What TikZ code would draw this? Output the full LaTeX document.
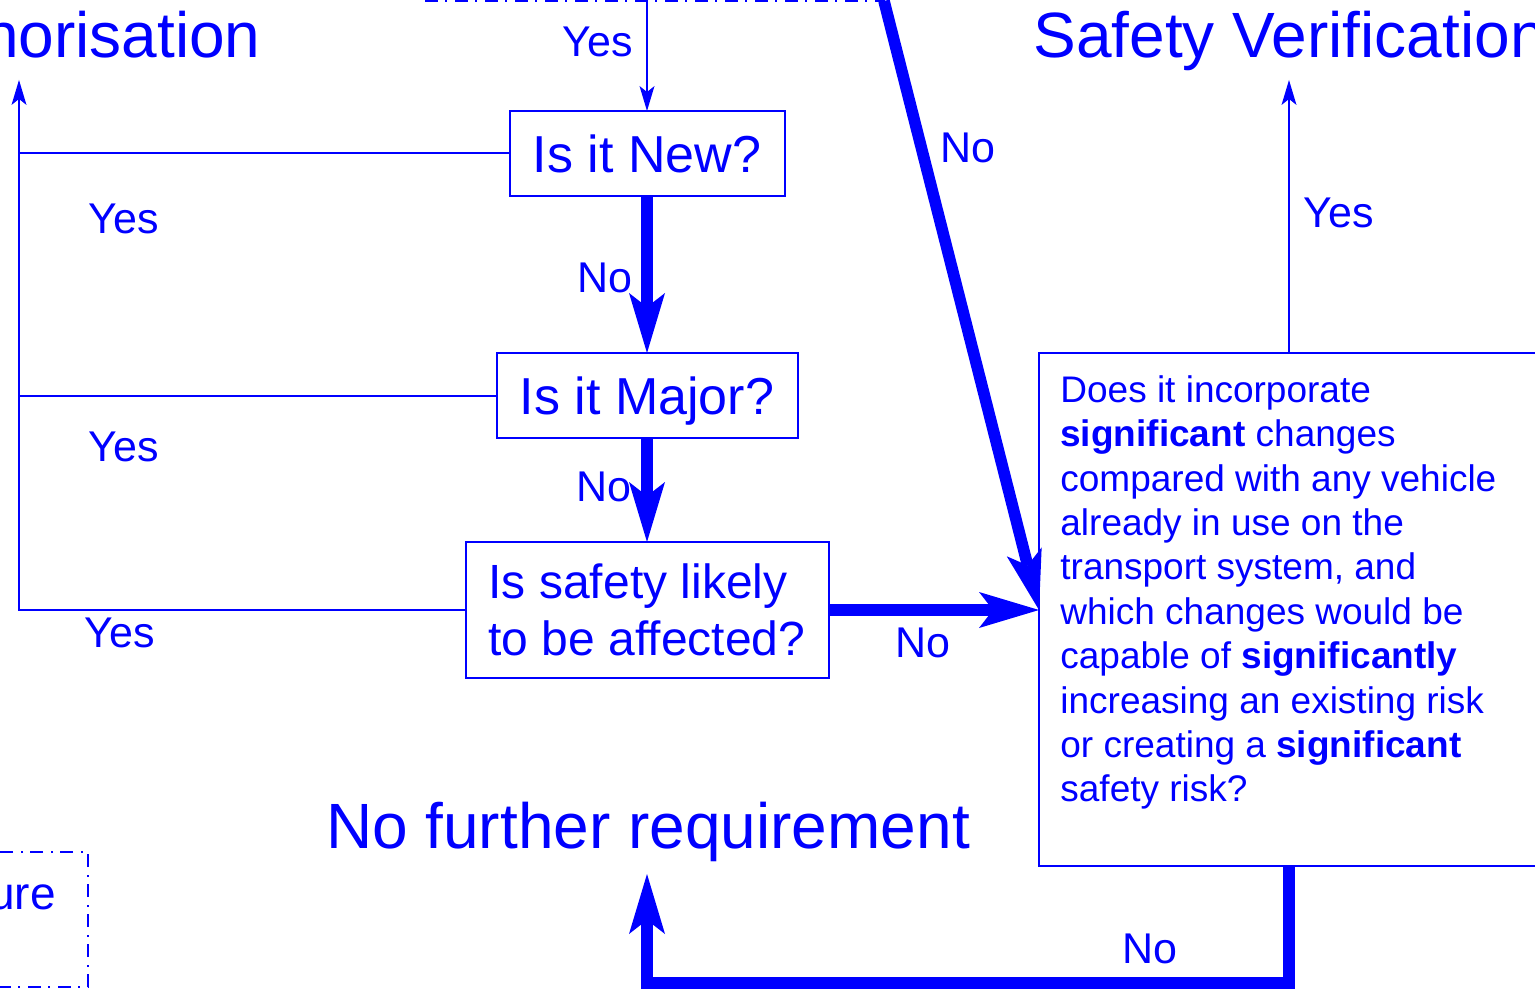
\documentclass[tikz,border=0pt]{standalone}
\usepackage{fontspec}
\setmainfont{Liberation Sans}
\usetikzlibrary{arrows.meta}

\tikzset{
  decision/.style={draw=blue, line width=1pt, text=blue, inner sep=0pt, outer sep=0pt},
  question/.style={decision, font=\fontsize{26}{28.5}\selectfont, align=center, text depth=0pt},
  procbox/.style={draw=blue, line width=1pt, inner sep=0pt, outer sep=0pt,
    dash pattern=on 6.5pt off 3.5pt on 1pt off 4pt},
  outcome/.style={text=blue, font=\fontsize{32}{36}\selectfont, inner sep=0pt},
  answer/.style={text=blue, font=\fontsize{21.5}{25}\selectfont, inner sep=0pt, anchor=base west},
  thinline/.style={draw=blue, line width=1pt},
  thinarrow/.style={thinline, -{Stealth[length=12.5pt,width=7.5pt,inset=3pt,line width=0pt]}},
  thickarrow/.style={draw=blue, line width=5.8pt, -{Stealth[length=30pt,width=18pt,inset=7pt,line width=0pt]}},
}

\begin{document}
\begin{tikzpicture}[x=0.5pt, y=-0.5pt]
  \useasboundingbox (0,0) rectangle (1535,989);
  % Outcomes
  \node [outcome, anchor=base east] (auth) at (261,58) {Authorisation};
  \node [outcome, anchor=base west] (verif) at (1033,58) {Safety Verification};
  \node [outcome, anchor=base] (nofurther) at (648,848) {No further requirement};
  % Boxes running off the page
  \node [procbox, minimum width=229.5pt, minimum height=60pt, anchor=south west] (vehicle) at (425,1) {};
  \node [procbox, minimum width=150pt, minimum height=67.5pt, anchor=north east] (proc) at (88,852) {};
  \node [text=blue, font=\fontsize{23}{27}\selectfont, inner sep=0pt, anchor=base east] (proctext) at (56,909) {ure};
  % Questions
  \node [question, minimum width=137.5pt, minimum height=42.5pt] (new) at (647,153.5) {Is it New?};
  \node [question, minimum width=150.5pt, minimum height=42.5pt] (major) at (647,395.5) {Is it Major?};
  \node [question, font=\fontsize{24}{28.5}\selectfont, align=left, minimum width=181.5pt, minimum height=68pt] (safety) at (647,610) {Is safety likely\\to be affected?};
  \node [decision, minimum width=260.5pt, minimum height=256.5pt, anchor=north west] (risk) at (1039,353) {};
  \node [text=blue, font=\fontsize{18.5}{22.2}\selectfont, align=left, inner sep=0pt, anchor=north west] (risktext) at (1060,375)
    {Does it incorporate\\\textbf{significant} changes\\compared with any vehicle\\already in use on the\\transport system, and\\which changes would be\\capable of \textbf{significantly}\\increasing an existing risk\\or creating a \textbf{significant}\\safety risk?};
  % Coordinates for the free ends
  \coordinate (authtip) at (19,80);
  \coordinate (veriftip) at (1289,80);
  \coordinate (nofurthertip) at (647,874);
  \coordinate (riskin) at (safety.east -| risk.west);
  % No path
  \draw [thinarrow] (vehicle.south -| new.north) -- (new.north);
  \draw [thickarrow] (new.south) -- (major.north);
  \draw [thickarrow] (major.south) -- (safety.north);
  \draw [thickarrow] (safety.east) -- (riskin);
  \draw [thickarrow] (vehicle.south east) -- (riskin);
  \draw [thickarrow] (veriftip |- risk.south) -- ++(0,117) -| (nofurthertip);
  % Yes paths
  \draw [thinarrow] (safety.west) -| (authtip);
  \draw [thinline] (new.west) -- (new.west -| authtip);
  \draw [thinline] (major.west) -- (major.west -| authtip);
  \draw [thinarrow] (veriftip |- risk.north) -- (veriftip);
  % Answers
  \node [answer] (yestop) at (562,57) {Yes};
  \node [answer] (yesnew) at (88,234) {Yes};
  \node [answer] (yesmajor) at (88,461) {Yes};
  \node [answer] (yessafety) at (84,647) {Yes};
  \node [answer] (yesrisk) at (1303,228) {Yes};
  \node [answer] (nonew) at (577,293) {No};
  \node [answer] (nomajor) at (576,501) {No};
  \node [answer] (novehicle) at (940,163) {No};
  \node [answer] (nosafety) at (895,657) {No};
  \node [answer] (norisk) at (1122,963) {No};
\end{tikzpicture}
\end{document}
